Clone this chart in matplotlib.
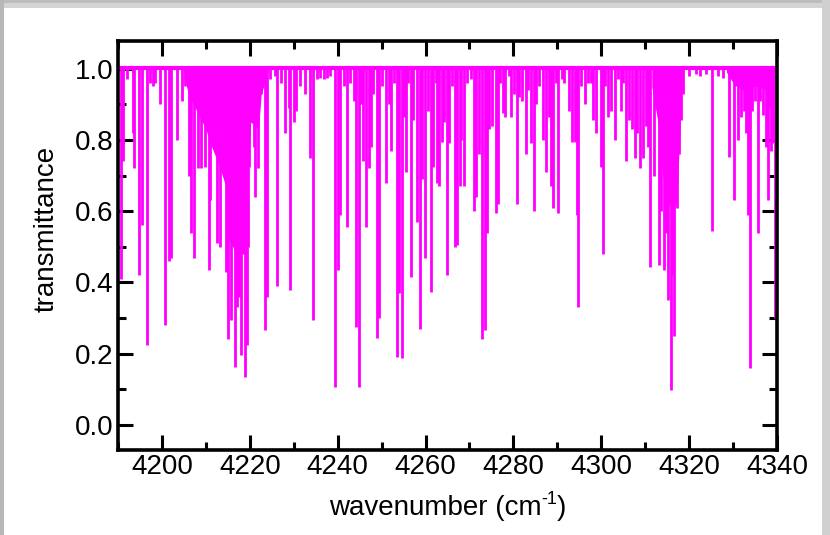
import matplotlib
matplotlib.use("Agg")
import matplotlib.pyplot as plt
from matplotlib.patches import Rectangle
from matplotlib.ticker import MultipleLocator

plt.rcParams['font.family'] = ['Liberation Sans', 'DejaVu Sans']

# Absorption lines: position (cm-1) and minimum transmittance
line_pos = [
    4190.7, 4191.2, 4193.4, 4193.6, 4194.7, 4195.5, 4196.5, 4198.5, 4199.5, 4200.8,
    4201.5, 4202.1, 4203.5, 4204.6, 4206.1, 4206.6, 4207.2, 4208.2, 4208.8, 4209.9,
    4210.7, 4211.0, 4212.6, 4213.2, 4214.5, 4215.0, 4215.5, 4215.8, 4216.6, 4217.2,
    4217.6, 4218.1, 4218.8, 4219.3, 4219.6, 4219.9, 4220.2, 4220.9, 4221.1, 4221.8,
    4222.6, 4223.4, 4224.0, 4224.6, 4225.7, 4226.2, 4228.1, 4228.9, 4229.2, 4230.0,
    4230.5, 4232.5, 4233.8, 4234.4, 4239.4, 4240.0, 4240.6,
    4242.2, 4242.9, 4243.7, 4244.1, 4244.8, 4245.4, 4245.8, 4246.4, 4247.1, 4247.5,
    4248.0, 4248.9, 4249.4, 4250.9, 4251.7, 4252.1, 4252.8, 4253.4, 4253.9, 4254.6,
    4255.1, 4255.5, 4256.6, 4257.2, 4258.0, 4258.7, 4259.3, 4259.9, 4260.6, 4261.2,
    4261.8, 4262.3, 4262.7, 4263.1, 4263.7, 4264.2, 4264.8, 4265.3, 4266.6, 4267.2,
    4267.8, 4268.0, 4268.7, 4271.0, 4271.6, 4272.2, 4272.8, 4273.5, 4273.9, 4274.4,
    4275.1, 4276.0, 4276.6, 4277.6, 4278.2, 4278.9, 4279.4, 4280.1, 4280.8, 4281.3,
    4282.0, 4282.8, 4283.4, 4283.9, 4284.7, 4285.1, 4286.7, 4287.4, 4288.0, 4288.5,
    4288.9, 4290.2, 4291.5, 4292.7, 4293.4, 4294.0, 4294.4, 4294.7, 4296.2, 4297.6,
    4298.2, 4298.7, 4299.9, 4300.4, 4301.5, 4302.2, 4303.1, 4303.7, 4304.6, 4305.6,
    4306.3, 4307.1, 4307.7, 4308.2, 4308.8, 4309.4, 4310.1, 4310.7, 4311.1, 4311.9,
    4312.4, 4313.2, 4313.7, 4314.3, 4314.7, 4315.2, 4315.8, 4316.2, 4316.6, 4317.2,
    4317.7, 4318.1, 4318.5, 4325.1, 4329.1, 4330.1, 4330.6, 4331.2, 4331.8, 4332.4,
    4332.9, 4333.3, 4333.9, 4334.4, 4335.0, 4335.6, 4336.2, 4336.7, 4337.5, 4337.9,
    4338.3, 4338.7, 4339.1, 4339.5,
]
line_min = [
    0.41, 0.74, 0.82, 0.72, 0.42, 0.56, 0.225, 0.96, 0.90, 0.28,
    0.46, 0.47, 0.80, 0.91, 0.70, 0.54, 0.47, 0.72, 0.72, 0.725,
    0.435, 0.63, 0.51, 0.50, 0.43, 0.24, 0.57, 0.295, 0.164, 0.33,
    0.36, 0.196, 0.134, 0.225, 0.50, 0.725, 0.87, 0.78, 0.64, 0.72,
    0.93, 0.267, 0.36, 0.97, 0.98, 0.39, 0.82, 0.89, 0.38, 0.85,
    0.88, 0.93, 0.75, 0.295, 0.108, 0.435, 0.59,
    0.557, 0.96, 0.91, 0.276, 0.108, 0.90, 0.74, 0.557, 0.72, 0.78,
    0.93, 0.243, 0.30, 0.68, 0.90, 0.77, 0.96, 0.19, 0.37, 0.187,
    0.865, 0.71, 0.416, 0.855, 0.57, 0.27, 0.69, 0.468, 0.88, 0.374,
    0.725, 0.96, 0.68, 0.67, 0.795, 0.85, 0.42, 0.79, 0.50, 0.505,
    0.67, 0.80, 0.67, 0.60, 0.64, 0.76, 0.24, 0.267, 0.54, 0.83,
    0.84, 0.594, 0.62, 0.875, 0.865, 0.98, 0.865, 0.93, 0.62, 0.92,
    0.91, 0.76, 0.94, 0.79, 0.60, 0.90, 0.80, 0.71, 0.865, 0.67,
    0.61, 0.594, 0.96, 0.88, 0.795, 0.795, 0.59, 0.33, 0.90, 0.96,
    0.855, 0.82, 0.725, 0.48, 0.865, 0.88, 0.80, 0.97, 0.88, 0.74,
    0.855, 0.83, 0.75, 0.82, 0.72, 0.75, 0.84, 0.78, 0.444, 0.70,
    0.89, 0.45, 0.60, 0.435, 0.54, 0.35, 0.098, 0.42, 0.25, 0.61,
    0.76, 0.855, 0.93, 0.545, 0.753, 0.63, 0.95, 0.80, 0.865, 0.88,
    0.82, 0.59, 0.16, 0.88, 0.91, 0.54, 0.91, 0.87, 0.78, 0.63,
    0.89, 0.77, 0.79, 0.30,
]

# weak lines forming the ragged edge just under 1.0
weak_pos = [4192.0, 4197.3, 4198.0, 4205.3, 4227.0, 4231.4, 4235.3, 4236.0, 4236.8,
            4237.5, 4238.2, 4241.5, 4250.2, 4256.0, 4266.0, 4269.5, 4270.3, 4277.0,
            4285.8, 4289.6, 4291.0, 4295.5, 4297.0, 4300.9, 4305.0, 4320.0, 4321.5,
            4322.5, 4323.8, 4326.5, 4327.8]
weak_min = [0.97, 0.96, 0.95, 0.95, 0.96, 0.95, 0.97, 0.975, 0.97, 0.975, 0.98, 0.95,
            0.95, 0.96, 0.95, 0.96, 0.97, 0.96, 0.95, 0.96, 0.97, 0.95, 0.96, 0.95,
            0.96, 0.98, 0.985, 0.98, 0.985, 0.98, 0.975]

# blended regions where the lines merge into a solid band
band1_x = [4205.0, 4206.0, 4208.0, 4210.0, 4211.0, 4213.0, 4214.5, 4214.8, 4217.0,
           4219.4, 4219.7, 4220.2, 4222.0, 4222.6, 4224.0]
band1_t = [0.98, 0.93, 0.88, 0.83, 0.79, 0.73, 0.67, 0.53, 0.48, 0.48, 0.72, 0.85,
           0.83, 0.93, 0.98]
band2_x = [4311.5, 4312.9, 4314.0, 4315.0, 4316.6, 4317.2, 4317.8, 4318.4]
band2_t = [0.95, 0.85, 0.70, 0.62, 0.62, 0.62, 0.80, 0.97]
band3_x = [4328.5, 4330.0, 4332.0, 4334.0, 4336.0, 4338.0, 4340.0]
band3_t = [0.99, 0.96, 0.94, 0.95, 0.95, 0.94, 0.93]

baseline = 1.003
x_range = [4190, 4340]

col = '#ff00ff'

fig = plt.figure(figsize=(8.3, 5.35), dpi=100)
fig.patch.set_facecolor('white')

# grey window frame around the plot
fig.add_artist(Rectangle((0, 1 - 8 / 535), 1, 8 / 535, transform=fig.transFigure,
                         facecolor='#d4d4d4', edgecolor='none'))
fig.add_artist(Rectangle((0, 1 - 3 / 535), 1, 3 / 535, transform=fig.transFigure,
                         facecolor='#bdbdbd', edgecolor='none'))
fig.add_artist(Rectangle((0, 0), 4 / 830, 1, transform=fig.transFigure,
                         facecolor='#b8b8b8', edgecolor='none'))
fig.add_artist(Rectangle((1 - 8 / 830, 0), 8 / 830, 1, transform=fig.transFigure,
                         facecolor='#d0d0d0', edgecolor='none'))

ax = fig.add_axes([118 / 830, 85 / 535, 659 / 830, 408.5 / 535])

ax.fill_between(band1_x, band1_t, baseline, color=col, lw=0)
ax.fill_between(band2_x, band2_t, baseline, color=col, lw=0)
ax.fill_between(band3_x, band3_t, baseline, color=col, lw=0)
ax.vlines(weak_pos, weak_min, baseline, color=col, lw=2.0)
ax.vlines(line_pos, line_min, baseline, color=col, lw=2.0)
ax.hlines(baseline, x_range[0], x_range[1], color=col, lw=3)

ax.set_xlim(x_range)
ax.set_ylim(-0.07, 1.076)

ax.xaxis.set_major_locator(MultipleLocator(20))
ax.xaxis.set_minor_locator(MultipleLocator(10))
ax.yaxis.set_major_locator(MultipleLocator(0.2))
ax.yaxis.set_minor_locator(MultipleLocator(0.1))
ax.yaxis.set_major_formatter(plt.FormatStrFormatter('%.1f'))

ax.tick_params(which='both', direction='in', top=True, right=True,
               width=2.2, labelsize=20, colors='black')
ax.tick_params(which='major', length=11, pad=3)
ax.tick_params(which='minor', length=6)
for s in ax.spines.values():
    s.set_linewidth(2.6)

# x label with a plain hyphen superscript, placed piecewise
xl = fig.text(447.5 / 830, 1 - 508 / 535, 'wavenumber (cm  )',
              fontsize=20, ha='center', va='center')
fig.canvas.draw()
r = fig.canvas.get_renderer()
bb = xl.get_window_extent(r)
xl.remove()
left = fig.text(bb.x0 / 830, 1 - 508 / 535, 'wavenumber (cm', fontsize=20,
                ha='left', va='center')
lb = left.get_window_extent(r)
sup = fig.text(lb.x1 / 830, (lb.y1 - 5) / 535, '-1', fontsize=13,
               ha='left', va='center')
sb = sup.get_window_extent(r)
fig.text(sb.x1 / 830, 1 - 508 / 535, ')', fontsize=20, ha='left', va='center')

fig.text(47 / 830, 1 - 229 / 535, 'transmittance', fontsize=20,
         rotation=90, ha='center', va='center')

fig.savefig('out.png', dpi=100)
